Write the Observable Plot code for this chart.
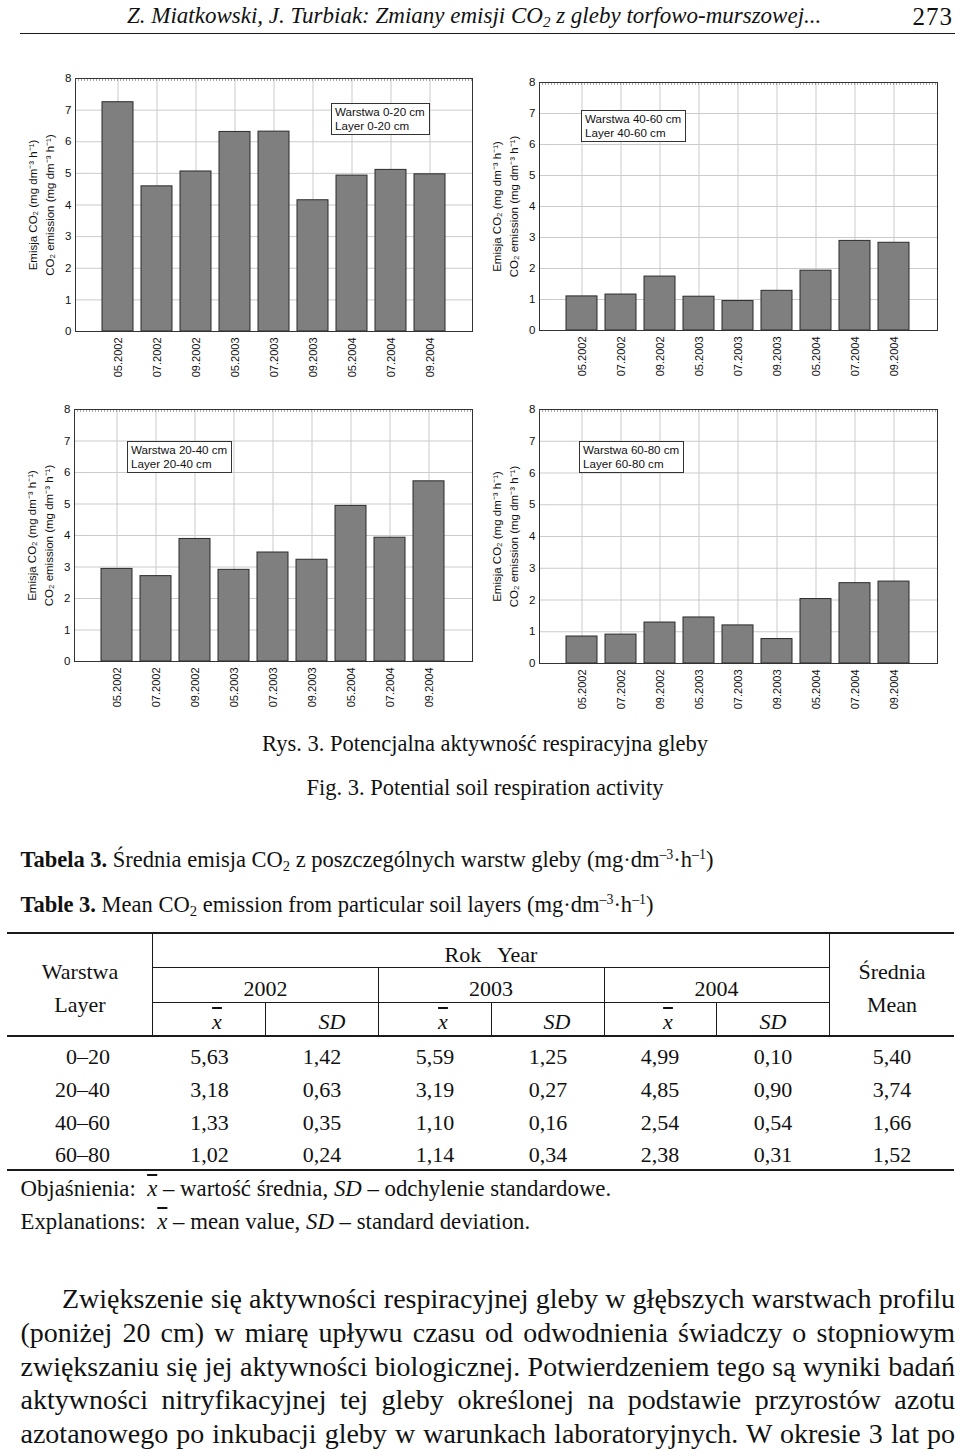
<!DOCTYPE html>
<html><head><meta charset="utf-8">
<script src="https://cdn.jsdelivr.net/npm/d3@7"></script>
<script src="https://cdn.jsdelivr.net/npm/@observablehq/plot@0.6"></script>
<style>
body{margin:0;background:#fff;}
#page{position:relative;width:960px;height:1452px;overflow:hidden;font-family:"Liberation Serif","Times New Roman",serif;color:#111;background:#fff;}
.abs{position:absolute;white-space:nowrap;line-height:1;}
.ln{position:absolute;background:#1a1a1a;}
.legend{position:absolute;background:#fff;border:1px solid #333;font-family:"Liberation Sans",Arial,sans-serif;font-size:11.6px;line-height:14px;padding:1px 4px 1px 3px;color:#111;white-space:nowrap;}
.ov{text-decoration:overline;font-style:italic;}
.it{font-style:italic;}
sub{font-size:0.65em;vertical-align:-0.25em;line-height:0;}
sup{font-size:0.62em;vertical-align:0.6em;line-height:0;}
.chart{position:absolute;}
.para{position:absolute;white-space:nowrap;line-height:1;text-align:justify;text-align-last:justify;}
</style></head><body><div id="page"></div>
<script>
// ---- chart data ----
const dates = ["05.2002","07.2002","09.2002","05.2003","07.2003","09.2003","05.2004","07.2004","09.2004"];
const layer0_20  = [7.25, 4.59, 5.06, 6.31, 6.32, 4.15, 4.93, 5.11, 4.97];
const layer40_60 = [1.10, 1.16, 1.74, 1.09, 0.95, 1.28, 1.93, 2.89, 2.83];
const layer20_40 = [2.94, 2.71, 3.89, 2.91, 3.46, 3.23, 4.94, 3.93, 5.72];
const layer60_80 = [0.85, 0.91, 1.29, 1.45, 1.20, 0.77, 2.03, 2.53, 2.58];
const yTicks = [0, 1, 2, 3, 4, 5, 6, 7, 8];
const yLabel1 = "Emisja CO₂ (mg dm⁻³ h⁻¹)";
const yLabel2 = "CO₂ emission (mg dm⁻³ h⁻¹)";
const legendTexts = [["Warstwa 0-20 cm","Layer 0-20 cm"],["Warstwa 40-60 cm","Layer 40-60 cm"],["Warstwa 20-40 cm","Layer 20-40 cm"],["Warstwa 60-80 cm","Layer 60-80 cm"]];

// ---- table data ----
const tableLayers = ["0–20","20–40","40–60","60–80"];
const mean2002 = ["5,63","3,18","1,33","1,02"];
const sd2002   = ["1,42","0,63","0,35","0,24"];
const mean2003 = ["5,59","3,19","1,10","1,14"];
const sd2003   = ["1,25","0,27","0,16","0,34"];
const mean2004 = ["4,99","4,85","2,54","2,38"];
const sd2004   = ["0,10","0,90","0,54","0,31"];
const meanAll  = ["5,40","3,74","1,66","1,52"];
const years = ["2002","2003","2004"];

const paragraph = [
  "Zwiększenie się aktywności respiracyjnej gleby w głębszych warstwach profilu",
  "(poniżej 20 cm) w miarę upływu czasu od odwodnienia świadczy o stopniowym",
  "zwiększaniu się jej aktywności biologicznej. Potwierdzeniem tego są wyniki badań",
  "aktywności nitryfikacyjnej tej gleby określonej na podstawie przyrostów azotu",
  "azotanowego po inkubacji gleby w warunkach laboratoryjnych. W okresie 3 lat po"
];

const page = document.getElementById("page");

function addText(html, x, baseline, fs, anchor, extra) {
  const d = document.createElement("div");
  d.className = "abs";
  d.style.fontSize = fs + "px";
  d.style.top = (baseline - 0.8375 * fs) + "px";
  d.style.left = x + "px";
  if (anchor === "middle") d.style.transform = "translateX(-50%)";
  if (anchor === "end") d.style.transform = "translateX(-100%)";
  if (extra) Object.assign(d.style, extra);
  d.innerHTML = html;
  page.appendChild(d);
  return d;
}
function hline(x1, x2, y, t) {
  const d = document.createElement("div"); d.className = "ln";
  Object.assign(d.style, {left: x1 + "px", top: (y - t / 2) + "px", width: (x2 - x1) + "px", height: t + "px"});
  page.appendChild(d);
}
function vline(x, y1, y2, t) {
  const d = document.createElement("div"); d.className = "ln";
  Object.assign(d.style, {left: (x - t / 2) + "px", top: y1 + "px", width: t + "px", height: (y2 - y1) + "px"});
  page.appendChild(d);
}

// ---- header ----
addText("Z. Miatkowski, J. Turbiak: Zmiany emisji CO<sub>2</sub> z gleby torfowo-murszowej...", 127, 23, 23, "start", {fontStyle: "italic"});
addText("273", 953, 25, 25, "end", {letterSpacing: "1px"});
hline(20, 955, 33.5, 1.5);

// ---- charts ----
function chart(values, cfg) {
  const data = dates.map((date, i) => ({date, value: values[i]}));
  return Plot.plot({
    width: 480, height: 340,
    marginTop: cfg.mt, marginBottom: cfg.mb, marginLeft: cfg.ml, marginRight: cfg.mr,
    style: {fontFamily: "'Liberation Sans', Arial, sans-serif", fontSize: "11px", color: "#111", background: "transparent", overflow: "visible"},
    x: {domain: dates, paddingInner: 0.2, paddingOuter: 0.6},
    y: {domain: [0, 8]},
    marks: [
      Plot.gridY(yTicks, {stroke: "#cbcbcb", strokeOpacity: 1}),
      Plot.gridX({stroke: "#cbcbcb", strokeOpacity: 1}),
      Plot.barY(data, {x: "date", y: "value", fill: "#7f7f7f", stroke: "#2b2b2b", strokeWidth: 1}),
      Plot.frame({stroke: "#333"}),
      Plot.ruleY([8], {stroke: "#555", strokeDasharray: "1,2", dy: 1.5}),
      Plot.axisY(yTicks, {tickSize: 0, tickPadding: 4, label: null, fontSize: 11.5}),
      Plot.axisX({tickRotate: -90, tickSize: 0, tickPadding: 6, label: null}),
      Plot.text([yLabel1], {text: d => d, frameAnchor: "left", textAnchor: "middle", rotate: -90, dx: -42, fontSize: 11.5}),
      Plot.text([yLabel2], {text: d => d, frameAnchor: "left", textAnchor: "middle", rotate: -90, dx: -25, fontSize: 11.5})
    ]
  });
}
const chartCfgs = [
  {values: layer0_20,  left: 0,   top: 50,  mt: 28, mb: 59, ml: 75, mr: 8,  lx: 331, ly: 103},
  {values: layer40_60, left: 480, top: 50,  mt: 32, mb: 60, ml: 59, mr: 23, lx: 581, ly: 110},
  {values: layer20_40, left: 0,   top: 390, mt: 19, mb: 69, ml: 74, mr: 8,  lx: 127, ly: 441},
  {values: layer60_80, left: 480, top: 390, mt: 19, mb: 67, ml: 59, mr: 23, lx: 579, ly: 441}
];
chartCfgs.forEach((c, i) => {
  const wrap = document.createElement("div");
  wrap.className = "chart";
  wrap.style.left = c.left + "px"; wrap.style.top = c.top + "px";
  wrap.appendChild(chart(c.values, c));
  page.appendChild(wrap);
  const lg = document.createElement("div");
  lg.className = "legend";
  lg.style.left = c.lx + "px"; lg.style.top = c.ly + "px";
  lg.innerHTML = legendTexts[i].join("<br>");
  page.appendChild(lg);
});

// ---- captions ----
addText("Rys. 3. Potencjalna aktywność respiracyjna gleby", 485, 752, 22.5, "middle");
addText("Fig. 3. Potential soil respiration activity", 485, 796, 22.5, "middle");
addText("<b>Tabela 3.</b> Średnia emisja CO<sub>2</sub> z poszczególnych warstw gleby (mg·dm<sup>–3</sup>·h<sup>–1</sup>)", 20.5, 868, 22.5, "start");
addText("<b>Table 3.</b> Mean CO<sub>2</sub> emission from particular soil layers (mg·dm<sup>–3</sup>·h<sup>–1</sup>)", 20.5, 913, 22.5, "start");

// ---- table ----
const T = 22;
hline(7, 954, 933, 1.8);
hline(152.7, 829.3, 967.7, 1);
hline(152.7, 829.3, 1002.3, 1);
hline(7, 954, 1036, 1.8);
hline(7, 954, 1170, 1.8);
vline(152.7, 933, 1036, 1);
vline(829.3, 933, 1036, 1);
vline(378.3, 967.7, 1036, 1);
vline(604, 967.7, 1036, 1);
vline(265.7, 1002.3, 1036, 1);
vline(491.7, 1002.3, 1036, 1);
vline(716.3, 1002.3, 1036, 1);

addText("Warstwa", 80, 979, T, "middle");
addText("Layer", 80, 1012, T, "middle");
addText("Rok&nbsp;&nbsp; Year", 491, 962, T, "middle");
addText("Średnia", 892, 979, T, "middle");
addText("Mean", 892, 1012, T, "middle");
const yearCx = [265.5, 491, 716.5];
years.forEach((y, i) => addText(y, yearCx[i], 996, T, "middle"));
const xbarCx = [217, 443, 668], sdCx = [332, 557, 773];
xbarCx.forEach(cx => addText('<span class="ov">x</span>', cx, 1029, T, "middle"));
sdCx.forEach(cx => addText('<span class="it">SD</span>', cx, 1029, T, "middle"));

const cols = [mean2002, sd2002, mean2003, sd2003, mean2004, sd2004, meanAll];
const colCx = [209.5, 322, 435, 548, 660, 773, 892];
const rowBase = [1064, 1097, 1130, 1162];
tableLayers.forEach((l, r) => {
  addText(l, 110, rowBase[r], T, "end");
  cols.forEach((col, c) => addText(col[r], colCx[c], rowBase[r], T, "middle"));
});

addText('Objaśnienia:&nbsp; <span class="ov">x</span> – wartość średnia, <span class="it">SD</span> – odchylenie standardowe.', 20.5, 1197, 22.8, "start");
addText('Explanations:&nbsp; <span class="ov">x</span> – mean value, <span class="it">SD</span> – standard deviation.', 20.5, 1230, 22.8, "start");

// ---- paragraph ----
const pfs = 28;
const pBase = [1308, 1342, 1376, 1409, 1443];
paragraph.forEach((line, i) => {
  const d = document.createElement("div");
  d.className = "para";
  d.style.fontSize = pfs + "px";
  const left = i === 0 ? 62 : 20.5;
  d.style.left = left + "px";
  d.style.width = (955 - left) + "px";
  d.style.top = (pBase[i] - 0.8375 * pfs) + "px";
  d.textContent = line;
  page.appendChild(d);
});
</script></body></html>
